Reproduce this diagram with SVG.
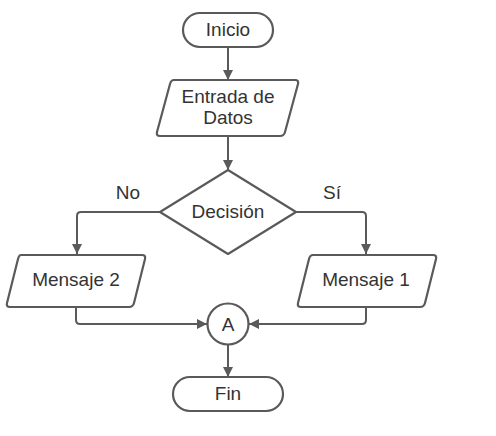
<svg xmlns="http://www.w3.org/2000/svg" width="496" height="436" viewBox="0 0 496 436">
<style>
.shape{fill:#ffffff;stroke:#5a5a5a;stroke-width:2.2;stroke-linejoin:round}
.line{fill:none;stroke:#5a5a5a;stroke-width:2}
.lbl{font-family:"Liberation Sans",Arial,sans-serif;font-size:19px;fill:#333333;text-anchor:middle}
</style>
<defs>
<marker id="arr" viewBox="0 0 10 10" refX="10" refY="5" markerWidth="10" markerHeight="10" markerUnits="userSpaceOnUse" orient="auto">
<path d="M0,0 L10,5 L0,10 Z" fill="#5a5a5a"/>
</marker>
</defs>
<rect width="496" height="436" fill="#ffffff"/>
<g id="connectors">
<path class="line" d="M228,47 V80" marker-end="url(#arr)"/>
<path class="line" d="M228,136 V170" marker-end="url(#arr)"/>
<path class="line" d="M160,212 H81 Q77,212 77,216 V254" marker-end="url(#arr)"/>
<path class="line" d="M296,212 H362 Q366,212 366,216 V254" marker-end="url(#arr)"/>
<path class="line" d="M76,307 V320 Q76,324 80,324 H207" marker-end="url(#arr)"/>
<path class="line" d="M366,307 V320 Q366,324 362,324 H249" marker-end="url(#arr)"/>
<path class="line" d="M228,345 V377" marker-end="url(#arr)"/>
<text class="lbl" x="128" y="199">No</text>
<text class="lbl" x="332" y="199">Sí</text>
</g>
<g id="inicio">
<rect class="shape" x="183" y="13" width="90" height="34" rx="17"/>
<text class="lbl" x="228" y="36">Inicio</text>
</g>
<g id="entrada">
<path class="shape" d="M174,80 H295 Q299,80 298,84 L285,132 Q284,136 280,136 H160 Q156,136 157,132 L170,84 Q171,80 174,80 Z"/>
<text class="lbl" x="228" y="103">Entrada de</text>
<text class="lbl" x="228" y="124">Datos</text>
</g>
<g id="decision">
<path class="shape" d="M228,170 L296,212 L228,254 L160,212 Z"/>
<text class="lbl" x="228" y="218">Decisión</text>
</g>
<g id="mensaje2">
<path class="shape" d="M21,255 H142 Q146,255 145,259 L134,303 Q133,307 129,307 H10 Q6,307 7,303 L18,259 Q19,255 21,255 Z"/>
<text class="lbl" x="76" y="286">Mensaje 2</text>
</g>
<g id="mensaje1">
<path class="shape" d="M313,255 H433 Q437,255 436,259 L425,303 Q424,307 420,307 H301 Q297,307 298,303 L309,259 Q310,255 313,255 Z"/>
<text class="lbl" x="366" y="286">Mensaje 1</text>
</g>
<g id="conectorA">
<circle class="shape" cx="228" cy="324" r="20.5"/>
<text class="lbl" x="228" y="331">A</text>
</g>
<g id="fin">
<rect class="shape" x="173" y="377" width="110" height="34" rx="17"/>
<text class="lbl" x="228" y="400">Fin</text>
</g>
</svg>
